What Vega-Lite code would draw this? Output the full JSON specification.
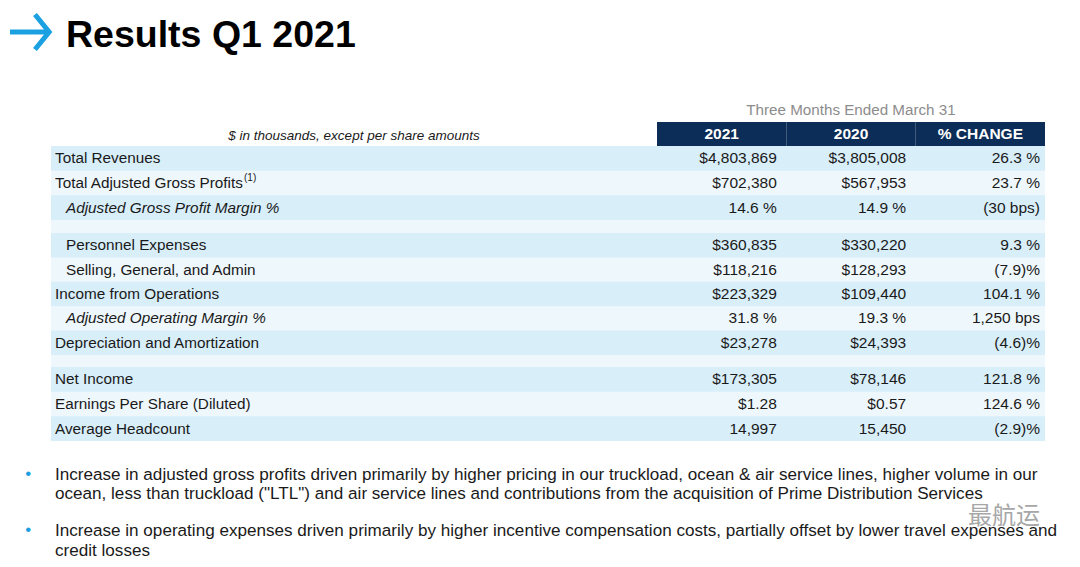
{
  "$schema": "https://vega.github.io/schema/vega-lite/v6.json",
  "width": 994,
  "height": 295,
  "autosize": {"type": "none"},
  "padding": {"left": 51, "top": 146, "right": 35, "bottom": 126},
  "background": "#ffffff",
  "view": {"fill": "#eef7fc", "stroke": null},
  "config": {"font": "Liberation Sans", "text": {"font": "Liberation Sans"}},
  "datasets": {
    "rows": [
      {"metric": "Total Revenues", "section": "A", "2021": "$4,803,869", "2020": "$3,805,008", "% CHANGE": "26.3 %"},
      {"metric": "Total Adjusted Gross Profits", "section": "A", "2021": "$702,380", "2020": "$567,953", "% CHANGE": "23.7 %"},
      {"metric": "Adjusted Gross Profit Margin %", "section": "A", "2021": "14.6 %", "2020": "14.9 %", "% CHANGE": "(30 bps)"},
      {"metric": "Personnel Expenses", "section": "B", "2021": "$360,835", "2020": "$330,220", "% CHANGE": "9.3 %"},
      {"metric": "Selling, General, and Admin", "section": "B", "2021": "$118,216", "2020": "$128,293", "% CHANGE": "(7.9)%"},
      {"metric": "Income from Operations", "section": "B", "2021": "$223,329", "2020": "$109,440", "% CHANGE": "104.1 %"},
      {"metric": "Adjusted Operating Margin %", "section": "B", "2021": "31.8 %", "2020": "19.3 %", "% CHANGE": "1,250 bps"},
      {"metric": "Depreciation and Amortization", "section": "B", "2021": "$23,278", "2020": "$24,393", "% CHANGE": "(4.6)%"},
      {"metric": "Net Income", "section": "C", "2021": "$173,305", "2020": "$78,146", "% CHANGE": "121.8 %"},
      {"metric": "Earnings Per Share (Diluted)", "section": "C", "2021": "$1.28", "2020": "$0.57", "% CHANGE": "124.6 %"},
      {"metric": "Average Headcount", "section": "C", "2021": "14,997", "2020": "15,450", "% CHANGE": "(2.9)%"}
    ],
    "columns": [{"column": "2021"}, {"column": "2020"}, {"column": "% CHANGE"}],
    "notes": [
      {"bullet": "1", "note": "Increase in adjusted gross profits driven primarily by higher pricing in our truckload, ocean & air service lines, higher volume in our\nocean, less than truckload (\"LTL\") and air service lines and contributions from the acquisition of Prime Distribution Services"},
      {"bullet": "2", "note": "Increase in operating expenses driven primarily by higher incentive compensation costs, partially offset by lower travel expenses and\ncredit losses"}
    ]
  },
  "layer": [
    {
      "data": {"values": [{"heading": "Results Q1 2021"}]},
      "mark": {"type": "text", "align": "left", "baseline": "alphabetic", "fontSize": 37.5, "fontWeight": "bold", "color": "#000000"},
      "encoding": {"x": {"value": 15}, "y": {"value": -99}, "text": {"field": "heading"}}
    },
    {
      "data": {"values": [{"icon": "arrow"}]},
      "mark": {"type": "point", "shape": "M-1,0L0.86,0M0.2,-0.84L0.88,0L0.2,0.84", "size": 1739, "filled": false, "stroke": "#1ba1e2", "strokeWidth": 5, "opacity": 1, "strokeJoin": "miter", "strokeCap": "butt"},
      "encoding": {"x": {"value": -20.2}, "y": {"value": -114}}
    },
    {
      "data": {"name": "columns"},
      "encoding": {
        "y": {"datum": "header", "type": "nominal", "axis": null, "scale": {"type": "band", "domain": ["caption", "header"], "range": [-48, 0], "paddingInner": 0, "paddingOuter": 0}}
      },
      "layer": [
        {
          "mark": {"type": "rect", "color": "#0c2d57"},
          "encoding": {"x": {"field": "column", "type": "nominal", "axis": null, "scale": {"type": "band", "domain": ["2021", "2020", "% CHANGE"], "range": [606, 994], "paddingInner": 0, "paddingOuter": 0}}}
        },
        {
          "mark": {"type": "text", "align": "center", "baseline": "middle", "fontSize": 15.5, "fontWeight": "bold", "color": "#ffffff"},
          "encoding": {
            "x": {"field": "column", "type": "nominal", "axis": null, "scale": {"type": "band", "domain": ["2021", "2020", "% CHANGE"], "range": [606, 994], "paddingInner": 0, "paddingOuter": 0}},
            "text": {"field": "column"}
          }
        },
        {
          "data": {"values": [{"caption": "Three Months Ended March 31"}]},
          "mark": {"type": "text", "align": "center", "baseline": "middle", "fontSize": 15.2, "color": "#8c8c8c"},
          "encoding": {
            "x": {"datum": "2020", "type": "nominal", "axis": null, "scale": {"type": "band", "domain": ["2021", "2020", "% CHANGE"], "range": [606, 994], "paddingInner": 0, "paddingOuter": 0}},
            "y": {"datum": "caption", "type": "nominal"},
            "text": {"field": "caption"}
          }
        },
        {
          "data": {"values": [{"caption": "$ in thousands, except per share amounts"}]},
          "mark": {"type": "text", "align": "center", "baseline": "middle", "fontSize": 13.5, "fontStyle": "italic", "dy": 1.5, "color": "#1a1a1a"},
          "encoding": {"x": {"value": 303}, "text": {"field": "caption"}}
        }
      ]
    },
    {
      "data": {"name": "rows"},
      "transform": [{"filter": {"field": "section", "equal": "A"}}],
      "encoding": {
        "y": {"field": "metric", "type": "nominal", "axis": null, "scale": {"type": "band", "domain": ["Total Revenues", "Total Adjusted Gross Profits", "Adjusted Gross Profit Margin %"], "range": [0, 74], "paddingInner": 0, "paddingOuter": 0}}
      },
      "layer": [
        {
          "transform": [{"filter": {"field": "metric", "oneOf": ["Total Revenues", "Adjusted Gross Profit Margin %"]}}],
          "mark": {"type": "rect", "color": "#d8eef9"},
          "encoding": {"x": {"value": 0}, "x2": {"value": "width"}}
        },
        {
          "transform": [{"filter": {"field": "metric", "oneOf": ["Total Revenues", "Total Adjusted Gross Profits"]}}],
          "mark": {"type": "text", "align": "left", "baseline": "middle", "fontSize": 15.3, "color": "#1a1a1a"},
          "encoding": {"x": {"value": 4}, "text": {"field": "metric"}}
        },
        {
          "transform": [{"filter": {"field": "metric", "equal": "Adjusted Gross Profit Margin %"}}],
          "mark": {"type": "text", "align": "left", "baseline": "middle", "fontSize": 15.3, "fontStyle": "italic", "color": "#1a1a1a"},
          "encoding": {"x": {"value": 15}, "text": {"field": "metric"}}
        },
        {
          "transform": [{"filter": {"field": "metric", "equal": "Total Adjusted Gross Profits"}}],
          "mark": {"type": "text", "align": "left", "baseline": "middle", "fontSize": 10, "dy": -5, "color": "#1a1a1a"},
          "encoding": {"x": {"value": 193}, "text": {"value": "(1)"}}
        },
        {
          "transform": [{"fold": ["2021", "2020"], "as": ["column", "value"]}],
          "mark": {"type": "text", "align": "right", "baseline": "middle", "fontSize": 15.5, "dx": -9.5, "color": "#1a1a1a"},
          "encoding": {
            "x": {"field": "column", "type": "nominal", "axis": null, "bandPosition": 1, "scale": {"type": "band", "domain": ["2021", "2020", "% CHANGE"], "range": [606, 994], "paddingInner": 0, "paddingOuter": 0}},
            "text": {"field": "value"}
          }
        },
        {
          "transform": [{"fold": ["% CHANGE"], "as": ["column", "value"]}],
          "mark": {"type": "text", "align": "right", "baseline": "middle", "fontSize": 15.5, "dx": -5, "color": "#1a1a1a"},
          "encoding": {
            "x": {"field": "column", "type": "nominal", "axis": null, "bandPosition": 1, "scale": {"type": "band", "domain": ["2021", "2020", "% CHANGE"], "range": [606, 994], "paddingInner": 0, "paddingOuter": 0}},
            "text": {"field": "value"}
          }
        }
      ]
    },
    {
      "data": {"name": "rows"},
      "transform": [{"filter": {"field": "section", "equal": "B"}}],
      "encoding": {
        "y": {"field": "metric", "type": "nominal", "axis": null, "scale": {"type": "band", "domain": ["Personnel Expenses", "Selling, General, and Admin", "Income from Operations", "Adjusted Operating Margin %", "Depreciation and Amortization"], "range": [87, 209], "paddingInner": 0, "paddingOuter": 0}}
      },
      "layer": [
        {
          "transform": [{"filter": {"field": "metric", "oneOf": ["Personnel Expenses", "Income from Operations", "Depreciation and Amortization"]}}],
          "mark": {"type": "rect", "color": "#d8eef9"},
          "encoding": {"x": {"value": 0}, "x2": {"value": "width"}}
        },
        {
          "transform": [{"filter": {"field": "metric", "oneOf": ["Income from Operations", "Depreciation and Amortization"]}}],
          "mark": {"type": "text", "align": "left", "baseline": "middle", "fontSize": 15.3, "color": "#1a1a1a"},
          "encoding": {"x": {"value": 4}, "text": {"field": "metric"}}
        },
        {
          "transform": [{"filter": {"field": "metric", "oneOf": ["Personnel Expenses", "Selling, General, and Admin"]}}],
          "mark": {"type": "text", "align": "left", "baseline": "middle", "fontSize": 15.3, "color": "#1a1a1a"},
          "encoding": {"x": {"value": 15}, "text": {"field": "metric"}}
        },
        {
          "transform": [{"filter": {"field": "metric", "equal": "Adjusted Operating Margin %"}}],
          "mark": {"type": "text", "align": "left", "baseline": "middle", "fontSize": 15.3, "fontStyle": "italic", "color": "#1a1a1a"},
          "encoding": {"x": {"value": 15}, "text": {"field": "metric"}}
        },
        {
          "transform": [{"fold": ["2021", "2020"], "as": ["column", "value"]}],
          "mark": {"type": "text", "align": "right", "baseline": "middle", "fontSize": 15.5, "dx": -9.5, "color": "#1a1a1a"},
          "encoding": {
            "x": {"field": "column", "type": "nominal", "axis": null, "bandPosition": 1, "scale": {"type": "band", "domain": ["2021", "2020", "% CHANGE"], "range": [606, 994], "paddingInner": 0, "paddingOuter": 0}},
            "text": {"field": "value"}
          }
        },
        {
          "transform": [{"fold": ["% CHANGE"], "as": ["column", "value"]}],
          "mark": {"type": "text", "align": "right", "baseline": "middle", "fontSize": 15.5, "dx": -5, "color": "#1a1a1a"},
          "encoding": {
            "x": {"field": "column", "type": "nominal", "axis": null, "bandPosition": 1, "scale": {"type": "band", "domain": ["2021", "2020", "% CHANGE"], "range": [606, 994], "paddingInner": 0, "paddingOuter": 0}},
            "text": {"field": "value"}
          }
        }
      ]
    },
    {
      "data": {"name": "rows"},
      "transform": [{"filter": {"field": "section", "equal": "C"}}],
      "encoding": {
        "y": {"field": "metric", "type": "nominal", "axis": null, "scale": {"type": "band", "domain": ["Net Income", "Earnings Per Share (Diluted)", "Average Headcount"], "range": [221, 295], "paddingInner": 0, "paddingOuter": 0}}
      },
      "layer": [
        {
          "transform": [{"filter": {"field": "metric", "oneOf": ["Net Income", "Average Headcount"]}}],
          "mark": {"type": "rect", "color": "#d8eef9"},
          "encoding": {"x": {"value": 0}, "x2": {"value": "width"}}
        },
        {
          "mark": {"type": "text", "align": "left", "baseline": "middle", "fontSize": 15.3, "color": "#1a1a1a"},
          "encoding": {"x": {"value": 4}, "text": {"field": "metric"}}
        },
        {
          "transform": [{"fold": ["2021", "2020"], "as": ["column", "value"]}],
          "mark": {"type": "text", "align": "right", "baseline": "middle", "fontSize": 15.5, "dx": -9.5, "color": "#1a1a1a"},
          "encoding": {
            "x": {"field": "column", "type": "nominal", "axis": null, "bandPosition": 1, "scale": {"type": "band", "domain": ["2021", "2020", "% CHANGE"], "range": [606, 994], "paddingInner": 0, "paddingOuter": 0}},
            "text": {"field": "value"}
          }
        },
        {
          "transform": [{"fold": ["% CHANGE"], "as": ["column", "value"]}],
          "mark": {"type": "text", "align": "right", "baseline": "middle", "fontSize": 15.5, "dx": -5, "color": "#1a1a1a"},
          "encoding": {
            "x": {"field": "column", "type": "nominal", "axis": null, "bandPosition": 1, "scale": {"type": "band", "domain": ["2021", "2020", "% CHANGE"], "range": [606, 994], "paddingInner": 0, "paddingOuter": 0}},
            "text": {"field": "value"}
          }
        }
      ]
    },
    {
      "data": {"name": "notes"},
      "encoding": {
        "y": {"field": "bullet", "type": "nominal", "axis": null, "scale": {"type": "point", "domain": ["1", "2"], "range": [333.7, 390.3], "padding": 0}}
      },
      "layer": [
        {
          "mark": {"type": "text", "align": "left", "baseline": "alphabetic", "fontSize": 17.1, "lineBreak": "\n", "lineHeight": 19.8, "color": "#1a1a1a"},
          "encoding": {"x": {"value": 4}, "text": {"field": "note"}}
        },
        {
          "mark": {"type": "text", "align": "center", "baseline": "alphabetic", "fontSize": 17, "dy": -1, "color": "#1ba1e2"},
          "encoding": {"x": {"value": -22.7}, "text": {"value": "•"}}
        }
      ]
    },
    {
      "data": {"values": [{"mark": "最航运"}]},
      "mark": {"type": "text", "align": "left", "baseline": "middle", "fontSize": 24, "font": "Noto Sans CJK SC", "color": "#8a8a8a", "opacity": 0.75},
      "encoding": {"x": {"value": 917}, "y": {"value": 371}, "text": {"field": "mark"}}
    }
  ],
  "resolve": {"scale": {"y": "independent"}}
}
